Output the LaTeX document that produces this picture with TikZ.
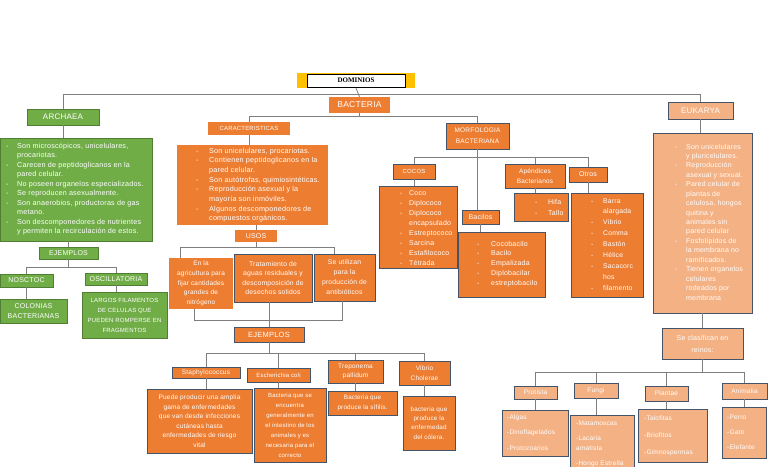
\documentclass[tikz,border=0pt]{standalone}
\usepackage{fontspec}
\setmainfont{Liberation Sans}[LetterSpace=3]
\newfontfamily\domfont{Liberation Serif}
\definecolor{orng}{HTML}{ED7D31}
\definecolor{grn}{HTML}{70AD47}
\definecolor{grnd}{HTML}{507E32}
\definecolor{salm}{HTML}{F4B183}
\definecolor{bord}{HTML}{44546A}
\definecolor{ylw}{HTML}{FFC000}
\definecolor{lin}{HTML}{7F7F7F}
\newcommand{\fs}[2]{\fontsize{#1}{#2}\selectfont}
\newcommand{\dl}[2]{\begin{tabular}[t]{@{}p{#1}@{}l@{}}#2\end{tabular}}
\newcommand{\kl}[1]{\begin{tabular}[t]{@{}l@{}}#1\end{tabular}}
\newcommand{\mkbox}[7]{%
  \pgfmathsetmacro\bxw{#5-#3}\pgfmathsetmacro\bxh{#6-#4}%
  \pgfmathsetmacro\bxx{(#3+#5)/2}\pgfmathsetmacro\bxy{(#4+#6)/2}%
  \node[#2, minimum width=\bxw pt, minimum height=\bxh pt] (#1) at (\bxx,\bxy) {#7};}
\tikzset{
  base/.style={inner sep=0.5pt, text=white, align=center, font=\fs{7}{9}},
  gbox/.style={base, fill=grn, draw=grnd, line width=0.5pt},
  obox/.style={base, fill=orng},
  obd/.style={base, fill=orng, draw=bord, line width=0.8pt},
  ebox/.style={base, fill=salm, draw=bord, line width=0.8pt},
  ylwbox/.style={inner sep=0pt, fill=ylw},
  dombox/.style={inner sep=0pt, fill=white, draw=black, line width=0.8pt, text=black},
  txt/.style={inner sep=0pt, text=white, anchor=base west},
  conn/.style={draw=lin, line width=0.8pt},
}
\begin{document}
\begin{tikzpicture}[x=1pt,y=-1pt]
\useasboundingbox (0,0) rectangle (768,466);
\clip (0,0) rectangle (768,466);
\fill[white] (0,0) rectangle (768,466);

% ---------- top ----------
\mkbox{domy}{ylwbox}{297}{73}{415}{88}{}
\mkbox{dom}{dombox}{307}{74}{405}{87}{\domfont\fs{7}{8}\textbf{DOMINIOS}}

% ---------- ARCHAEA ----------
\mkbox{archaea}{gbox,font=\fs{8}{10}}{27}{109}{99}{125}{ARCHAEA}
\mkbox{archlist}{gbox}{0}{138}{152}{241}{}
\node[txt,font=\fs{7.2}{9.5}] (archlistt) at (6,148) {\dl{11pt}{%
- & Son microscópicos, unicelulares,\\
  & procariotas.\\
- & Carecen de peptidoglicanos en la\\
  & pared celular.\\
- & No poseen organelos especializados.\\
- & Se reproducen asexualmente.\\
- & Son anaerobios, productoras de gas\\
  & metano.\\
- & Son descomponedores de nutrientes\\
  & y permiten la recirculación de estos.}};
\mkbox{ejA}{gbox}{39}{247}{98}{259}{EJEMPLOS}
\mkbox{nost}{gbox}{0}{274}{53}{287}{NOSCTOC}
\mkbox{osci}{gbox}{85}{273}{147}{285}{OSCILLATORIA}
\mkbox{colon}{gbox,font=\fs{7}{10}}{0}{299}{67}{323}{COLONIAS\\BACTERIANAS}
\mkbox{largos}{gbox,font=\fs{6}{10}}{82}{292}{167}{338}{LARGOS FILAMENTOS\\DE CELULAS QUE\\PUEDEN ROMPERSE EN\\FRAGMENTOS}

% ---------- BACTERIA ----------
\mkbox{bact}{obox,font=\fs{8.5}{10}}{329}{97}{390}{113}{BACTERIA}
\mkbox{caract}{obox,font=\fs{6}{8}}{208}{122}{290}{135}{CARACTERISTICAS}
\mkbox{clist}{obox}{177}{145}{328}{225}{}
\node[txt,font=\fs{7.2}{9.7}] (clistt) at (196,153) {\dl{13pt}{%
- & Son unicelulares, procariotas.\\
- & Contienen peptidoglicanos en la\\
  & pared celular.\\
- & Son autótrofas, quimiosintéticas.\\
- & Reproducción asexual y la\\
  & mayoría son inmóviles.\\
- & Algunos descomponedores de\\
  & compuestos orgánicos.}};
\mkbox{usos}{obox}{235}{230}{277}{242}{USOS}
\mkbox{agri}{obox,font=\fs{6.5}{9.7}}{169}{258}{233}{309}{En la\\agricultura para\\fijar cantidades\\grandes de\\nitrógeno}
\mkbox{trat}{obd,font=\fs{6.8}{9.6}}{234}{254}{312}{302}{Tratamiento de\\aguas residuales y\\descomposición de\\desechos solidos}
\mkbox{anti}{obd,font=\fs{6.8}{10}}{314}{254}{375}{301}{Se utilizan\\para la\\producción de\\antibióticos}
\mkbox{ejB}{obd,font=\fs{7.5}{9}}{234}{327}{304}{342}{EJEMPLOS}
\mkbox{staph}{obd,font=\fs{6.5}{8}}{172}{367}{240}{378}{Staphylococcus}
\mkbox{ecoli}{obd,font=\fs{6}{8}}{247}{368}{310}{382}{Escherichia coli}
\mkbox{trep}{obd,font=\fs{6.5}{8.5}}{328}{360}{383}{383}{Treponema\\pallidum}
\mkbox{vib}{obd,font=\fs{6.5}{10}}{399}{361}{450}{385}{Vibrio\\Cholerae}
\mkbox{staphd}{obd,font=\fs{6.5}{9.5}}{147}{389}{252}{453}{Puede producir una amplia\\gama de enfermedades\\que van desde infecciones\\cutáneas hasta\\enfermedades de riesgo\\vital}
\mkbox{ecolid}{obd,font=\fs{6}{10}}{254}{388}{326}{462}{Bacteria que se\\encuentra\\generalmente en\\el intestino de los\\animales y es\\necesaria para el\\correcto}
\mkbox{trepd}{obd,font=\fs{6.3}{10}}{328}{391}{397}{415}{Bacteria que\\produce la sífilis.}
\mkbox{vibd}{obd,font=\fs{6.3}{9.4}}{403}{396}{455}{450}{bacteria que\\produce la\\enfermedad\\del cólera.}

% ---------- MORFOLOGIA ----------
\mkbox{morf}{obd,font=\fs{6.5}{11}}{446}{123}{509}{149}{MORFOLOGIA\\BACTERIANA}
\mkbox{cocos}{obd,font=\fs{6}{8}}{393}{164}{435}{179}{COCOS}
\mkbox{cocl}{obd}{379}{186}{457}{268}{}
\node[txt,font=\fs{7}{10}] (coclt) at (400,195) {\dl{9pt}{%
- & Coco\\
- & Diplococo\\
- & Diplococo\\
  & encapsulado\\
- & Estreptococo\\
- & Sarcina\\
- & Estafilococo\\
- & Tétrada}};
\mkbox{bacil}{obd,font=\fs{7}{9}}{462}{210}{499}{224}{Bacilos}
\mkbox{bacl}{obd}{458}{232}{545}{297}{}
\node[txt,font=\fs{7}{9.8}] (baclt) at (477,246) {\dl{14pt}{%
- & Cocobacilo\\
- & Bacilo\\
- & Empalizada\\
- & Diplobacilar\\
- & estreptobacilo}};
\mkbox{apen}{obd,font=\fs{6.5}{10}}{505}{164}{565}{188}{Apéndices\\Bacterianos}
\mkbox{apl}{obd}{514}{193}{568}{221}{}
\node[txt,font=\fs{7}{11}] (aplt) at (535,204) {\dl{13pt}{%
- & Hifa\\
- & Tallo}};
\mkbox{otros}{obd,font=\fs{7}{9}}{569}{167}{607}{182}{Otros}
\mkbox{otl}{obd}{571}{193}{643}{297}{}
\node[txt,font=\fs{6.8}{10.9}] (otlt) at (591,203) {\dl{12pt}{%
- & Barra\\
  & alargada\\
- & Vibrio\\
- & Comma\\
- & Bastón\\
- & Hélice\\
- & Sacacorc\\
  & hos\\
- & filamento}};

% ---------- EUKARYA ----------
\mkbox{eukarya}{ebox,font=\fs{8}{10}}{668}{102}{733}{119}{EUKARYA}
\mkbox{eul}{ebox}{653}{133}{752}{313}{}
\node[txt,font=\fs{7}{9.44}] (eult) at (675,149) {\dl{11pt}{%
- & Son unicelulares\\
  & y pluricelulares.\\
- & Reproducción\\
  & asexual y sexual.\\
- & Pared celular de\\
  & plantas de\\
  & celulosa, hongos\\
  & quitina y\\
  & animales sin\\
  & pared celular\\
- & Fosfolípidos de\\
  & la membrana no\\
  & ramificados.\\
- & Tienen organelos\\
  & celulares\\
  & rodeados por\\
  & membrana}};
\mkbox{secl}{ebox,font=\fs{7}{12}}{662}{328}{743}{359}{Se clasifican en\\reinos:}
\mkbox{prot}{ebox,font=\fs{6.5}{8}}{514}{386}{557}{399}{Protista}
\mkbox{fung}{ebox,font=\fs{6.5}{8}}{574}{383}{618}{398}{Fungi}
\mkbox{plan}{ebox,font=\fs{6.5}{8}}{645}{386}{688}{401}{Plantae}
\mkbox{anim}{ebox,font=\fs{6.5}{8}}{722}{383}{767}{399}{Animalia}
\mkbox{protl}{ebox}{502}{410}{568}{456}{}
\node[txt,font=\fs{6.5}{15.5}] (protlt) at (507,419) {\kl{-Algas\\-Dinoflagelados\\-Protozoarios}};
\mkbox{fungl}{ebox}{570}{415}{634}{472}{}
\node[txt,font=\fs{6.5}{10}] (funglt) at (576,425) {\kl{-Matamoscas\\[5pt]-Lacaria\\amatista\\[5pt]-Hongo Estrella}};
\mkbox{planl}{ebox}{638}{409}{707}{462}{}
\node[txt,font=\fs{6.5}{17}] (planlt) at (644,420) {\kl{-Talofitas\\-Briofitos\\-Gimnospermas}};
\mkbox{animl}{ebox}{722}{407}{766}{458}{}
\node[txt,font=\fs{6.5}{15}] (animlt) at (727,419) {\kl{-Perro\\-Gato\\-Elefante}};

% ---------- connectors ----------
\draw[conn] (domy.south) -- (bact.north);
\draw[conn] (domy.south) ++(0,6) -| (archaea.north);
\draw[conn] (domy.south) ++(0,6) -| (eukarya.north);
% archaea
\draw[conn] (archaea.south) -- (archaea.south |- archlist.north);
\draw[conn] (ejA.north |- archlist.south) -- (ejA.north);
\draw[conn] (ejA.south) -- ++(0,8) -| (nost.north);
\draw[conn] (ejA.south) ++(0,8) -| (osci.north);
\draw[conn] (nost.south) -- (nost.south |- colon.north);
\draw[conn] (osci.south) -- (osci.south |- largos.north);
% bacteria
\draw[conn] (bact.south) -- ++(0,3) -| (caract.north);
\draw[conn] (bact.south) ++(0,3) -| (morf.north);
\draw[conn] (caract.south) -- (caract.south |- clist.north);
\draw[conn] (usos.north |- clist.south) -- (usos.north);
\draw[conn] (usos.south) -- ++(0,5) -| ([xshift=-21pt]agri.north);
\draw[conn] (usos.south) ++(0,5) -| ([xshift=-10pt]anti.north);
\draw[conn] ([xshift=-7pt]agri.south) -- ++(0,11) -| ([xshift=-2pt]anti.south);
\draw[conn] (ejB.north |- trat.south) -- (ejB.north);
\draw[conn] (ejB.south) -- ++(0,11) -| (staph.north);
\draw[conn] (ejB.south) ++(0,11) -| (ecoli.north);
\draw[conn] (ejB.south) ++(0,11) -| (trep.north);
\draw[conn] (ejB.south) ++(0,11) -| (vib.north);
\draw[conn] (staph.south) -- (staph.south |- staphd.north);
\draw[conn] (ecoli.south) -- (ecoli.south |- ecolid.north);
\draw[conn] (trep.south) -- (trep.south |- trepd.north);
\draw[conn] (vib.south) -- (vib.south |- vibd.north);
% morfologia
\draw[conn] (morf.south) -- ++(0,8) -| (cocos.north);
\draw[conn] (morf.south) ++(0,8) -| (apen.north);
\draw[conn] (morf.south) ++(0,8) -| (otros.north);
\draw[conn] (morf.south) -- (morf.south |- bacil.north);
\draw[conn] (cocos.south) -- (cocos.south |- cocl.north);
\draw[conn] (bacil.south) -- (bacil.south |- bacl.north);
\draw[conn] (apen.south) -- (apen.south |- apl.north);
\draw[conn] (otros.south) -- (otros.south |- otl.north);
% eukarya
\draw[conn] (eukarya.south) -- (eukarya.south |- eul.north);
\draw[conn] (secl.north |- eul.south) -- (secl.north);
\draw[conn] (secl.south) -- ++(0,13) -| (prot.north);
\draw[conn] (secl.south) ++(0,13) -| (fung.north);
\draw[conn] (secl.south) ++(0,13) -| (plan.north);
\draw[conn] (secl.south) ++(0,13) -| (anim.north);
\draw[conn] (prot.south) -- (prot.south |- protl.north);
\draw[conn] (fung.south) -- (fung.south |- fungl.north);
\draw[conn] (plan.south) -- (plan.south |- planl.north);
\draw[conn] (anim.south) -- (anim.south |- animl.north);
\end{tikzpicture}
\end{document}
